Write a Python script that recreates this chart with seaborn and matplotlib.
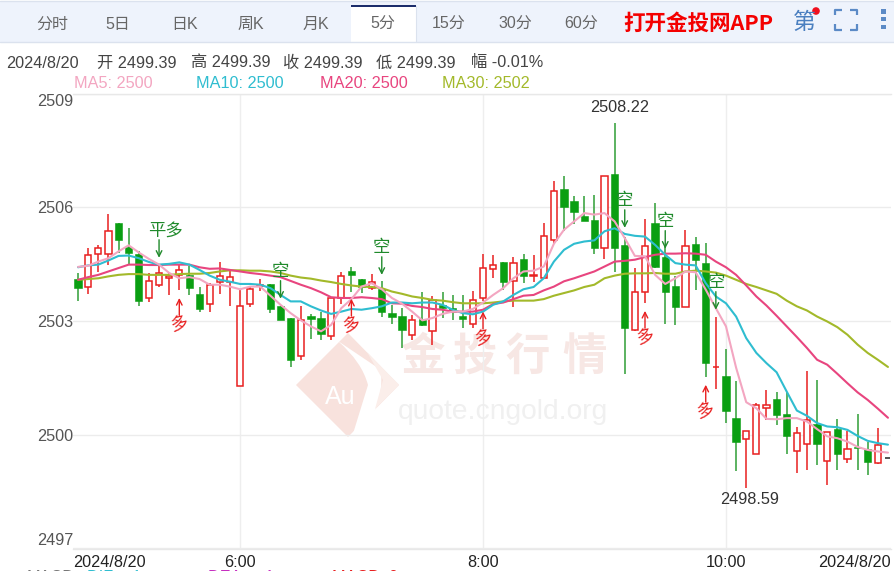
import pandas as pd
import numpy as np
import matplotlib
matplotlib.use("Agg")
import matplotlib.pyplot as plt
import matplotlib.transforms as mtrans
import seaborn as sns
from matplotlib.patches import Polygon, Rectangle, Circle, PathPatch
from matplotlib.path import Path

# 5 minute candles, 2024/8/20
OPEN = [2504.11, 2503.91, 2504.77, 2504.77, 2505.60, 2504.95, 2504.78, 2503.60, 2503.94, 2504.13, 2504.22,
        2504.21, 2503.72, 2503.45, 2504.03, 2504.03, 2501.28, 2503.44, 2503.93, 2503.97, 2503.40,
        2503.08, 2502.09, 2503.14, 2503.08, 2502.62, 2503.61, 2504.33, 2504.11, 2503.87, 2503.84,
        2503.21, 2503.14, 2502.63, 2503.06, 2502.73, 2503.43, 2503.34, 2503.14, 2502.92, 2503.62,
        2504.37, 2504.57, 2504.06, 2504.64, 2504.20, 2504.13, 2505.13, 2506.48, 2506.17, 2505.76,
        2505.67, 2504.93, 2506.89, 2505.00, 2502.77, 2503.78, 2505.60, 2504.68, 2503.93, 2503.38,
        2505.04, 2504.53, 2501.78, 2501.56, 2500.44, 2499.89, 2499.50, 2500.70, 2500.94, 2500.55,
        2499.58, 2499.75, 2500.29, 2499.30, 2500.15, 2499.36, 2499.67, 2499.63, 2499.25, 2499.39]
HIGH = [2504.27, 2504.93, 2505.01, 2505.83, 2505.60, 2505.45, 2504.84, 2504.27, 2504.49, 2504.27, 2504.49,
        2504.46, 2503.91, 2504.00, 2504.56, 2504.31, 2503.83, 2503.90, 2504.11, 2503.97, 2503.40,
        2503.08, 2503.41, 2503.19, 2503.24, 2503.60, 2504.29, 2504.42, 2504.11, 2504.24, 2504.05,
        2503.43, 2503.34, 2503.15, 2503.78, 2503.65, 2503.76, 2503.69, 2503.69, 2503.80, 2504.77,
        2504.74, 2504.57, 2504.69, 2504.78, 2504.75, 2505.60, 2506.70, 2506.83, 2506.31, 2506.31,
        2506.33, 2506.84, 2508.22, 2505.23, 2504.40, 2505.69, 2506.11, 2504.97, 2504.18, 2505.41,
        2505.21, 2505.06, 2503.11, 2502.26, 2501.43, 2500.11, 2500.84, 2501.17, 2501.12, 2501.12,
        2500.20, 2501.69, 2501.45, 2500.07, 2500.41, 2500.11, 2500.55, 2499.81, 2500.19, 2499.39]
LOW = [2503.54, 2503.72, 2504.29, 2504.49, 2504.79, 2504.51, 2503.41, 2503.50, 2503.91, 2503.69, 2503.81,
       2503.69, 2503.25, 2503.23, 2503.71, 2503.40, 2501.28, 2503.37, 2503.79, 2503.21, 2503.02,
       2501.78, 2501.98, 2502.53, 2502.51, 2502.51, 2503.45, 2503.76, 2503.74, 2503.83, 2503.10,
       2502.93, 2502.30, 2502.49, 2502.86, 2502.38, 2503.08, 2503.03, 2502.81, 2502.81, 2503.52,
       2504.13, 2503.83, 2503.36, 2504.00, 2504.03, 2504.13, 2505.04, 2505.37, 2505.57, 2505.65,
       2504.77, 2504.64, 2504.29, 2501.61, 2502.73, 2503.47, 2504.40, 2502.93, 2502.89, 2503.38,
       2503.83, 2501.52, 2501.21, 2500.31, 2499.05, 2498.59, 2499.50, 2500.40, 2500.26, 2499.50,
       2498.99, 2499.08, 2499.19, 2498.68, 2499.08, 2499.25, 2499.08, 2498.93, 2499.24, 2499.39]
CLOSE = [2503.87, 2504.74, 2504.93, 2505.38, 2505.13, 2504.79, 2503.54, 2504.07, 2504.27, 2504.18, 2504.34,
         2503.87, 2503.33, 2503.95, 2504.20, 2504.17, 2503.40, 2503.86, 2503.96, 2503.31, 2503.02,
         2501.98, 2503.03, 2503.05, 2502.66, 2503.60, 2504.18, 2504.22, 2503.90, 2504.02, 2503.23,
         2503.10, 2502.77, 2503.03, 2502.89, 2503.56, 2503.34, 2503.23, 2503.05, 2503.56, 2504.39,
         2504.49, 2504.02, 2504.53, 2504.20, 2504.21, 2505.25, 2506.42, 2506.01, 2505.87, 2505.65,
         2504.94, 2506.84, 2504.94, 2502.83, 2503.78, 2504.99, 2504.42, 2503.76, 2503.37, 2504.99,
         2504.62, 2501.89, 2501.80, 2500.64, 2499.82, 2500.11, 2500.79, 2500.79, 2500.53, 2499.96,
         2500.04, 2500.38, 2499.75, 2500.07, 2499.50, 2499.62, 2499.65, 2499.28, 2499.72, 2499.39]

MA5 = [2504.43, 2504.46, 2504.57, 2504.66, 2504.84, 2505.00, 2504.81, 2504.64, 2504.49, 2504.27, 2504.13,
       2504.16, 2504.11, 2503.96, 2503.96, 2503.91, 2503.84, 2503.91, 2503.91, 2503.67, 2503.43,
       2503.21, 2503.02, 2502.86, 2502.73, 2502.90, 2503.34, 2503.58, 2503.91, 2504.00, 2503.84,
       2503.61, 2503.46, 2503.25, 2503.02, 2503.08, 2503.19, 2503.25, 2503.25, 2503.32, 2503.49,
       2503.69, 2503.87, 2504.13, 2504.31, 2504.33, 2504.44, 2505.04, 2505.41, 2505.63, 2505.85,
       2505.81, 2505.85, 2505.63, 2505.19, 2504.72, 2504.71, 2504.22, 2503.98, 2504.13, 2504.31,
       2504.29, 2503.83, 2503.34, 2502.86, 2501.77, 2500.86, 2500.70, 2500.42, 2500.41, 2500.44,
       2500.44, 2500.35, 2500.15, 2499.96, 2499.91, 2499.82, 2499.68, 2499.60, 2499.56, 2499.53]
MA10 = [2504.42, 2504.47, 2504.49, 2504.60, 2504.72, 2504.73, 2504.66, 2504.56, 2504.49, 2504.51, 2504.55,
        2504.49, 2504.35, 2504.20, 2504.09, 2504.04, 2503.98, 2503.98, 2503.96, 2503.87, 2503.69,
        2503.52, 2503.52, 2503.39, 2503.28, 2503.19, 2503.25, 2503.32, 2503.30, 2503.34, 2503.39,
        2503.49, 2503.49, 2503.47, 2503.49, 2503.49, 2503.43, 2503.30, 2503.21, 2503.18, 2503.25,
        2503.43, 2503.52, 2503.69, 2503.84, 2503.90, 2504.13, 2504.57, 2504.88, 2505.04, 2505.10,
        2505.13, 2505.37, 2505.45, 2505.30, 2505.25, 2505.23, 2505.01, 2504.75, 2504.53, 2504.49,
        2504.47, 2504.00, 2503.65, 2503.47, 2503.12, 2502.55, 2502.16, 2501.89, 2501.65, 2501.14,
        2500.64, 2500.50, 2500.31, 2500.22, 2500.20, 2500.13, 2499.97, 2499.84, 2499.78, 2499.74]
MA20 = [2504.09, 2504.16, 2504.22, 2504.31, 2504.40, 2504.49, 2504.49, 2504.48, 2504.48, 2504.49, 2504.49,
        2504.49, 2504.42, 2504.38, 2504.39, 2504.35, 2504.31, 2504.27, 2504.24, 2504.20, 2504.16,
        2504.06, 2503.96, 2503.87, 2503.76, 2503.63, 2503.61, 2503.61, 2503.63, 2503.61, 2503.58,
        2503.47, 2503.46, 2503.40, 2503.37, 2503.32, 2503.30, 2503.25, 2503.25, 2503.25, 2503.30,
        2503.45, 2503.49, 2503.58, 2503.67, 2503.69, 2503.81, 2503.91, 2504.05, 2504.13, 2504.22,
        2504.31, 2504.44, 2504.57, 2504.59, 2504.62, 2504.69, 2504.75, 2504.78, 2504.78, 2504.79,
        2504.78, 2504.75, 2504.57, 2504.42, 2504.22, 2503.94, 2503.65, 2503.41, 2503.14, 2502.86,
        2502.58, 2502.29, 2501.98, 2501.85, 2501.61, 2501.36, 2501.12, 2500.92, 2500.69, 2500.45]
MA30 = [2504.09, 2504.11, 2504.13, 2504.18, 2504.22, 2504.24, 2504.24, 2504.22, 2504.22, 2504.22, 2504.24,
        2504.25, 2504.25, 2504.27, 2504.31, 2504.34, 2504.34, 2504.33, 2504.33, 2504.31, 2504.27,
        2504.20, 2504.15, 2504.12, 2504.07, 2504.03, 2503.98, 2503.94, 2503.91, 2503.90, 2503.87,
        2503.78, 2503.72, 2503.65, 2503.61, 2503.56, 2503.54, 2503.50, 2503.47, 2503.47, 2503.47,
        2503.49, 2503.52, 2503.54, 2503.54, 2503.54, 2503.58, 2503.67, 2503.74, 2503.81, 2503.90,
        2503.96, 2504.13, 2504.20, 2504.25, 2504.26, 2504.26, 2504.27, 2504.25, 2504.25, 2504.31,
        2504.33, 2504.31, 2504.28, 2504.20, 2504.09, 2503.98, 2503.90, 2503.81, 2503.72, 2503.54,
        2503.39, 2503.28, 2503.12, 2502.99, 2502.84, 2502.64, 2502.38, 2502.16, 2501.98, 2501.79]

Y_TICKS = [2497, 2500, 2503, 2506, 2509]
X_GRID = [16, 40, 64]
X_GRID_LABELS = ["6:00", "8:00", "10:00"]
DATE_LABEL = "2024/8/20"

# trade signals: candle index, arrow tip price, text
SHORT_IDX = [8, 20, 30, 54, 58, 63]
SHORT_PRICE = [2504.67, 2503.59, 2504.22, 2505.46, 2504.91, 2503.30]
SHORT_TEXT = ["平多", "空", "空", "空", "空", "空"]
LONG_IDX = [10, 27, 40, 56, 62]
LONG_PRICE = [2503.61, 2503.59, 2503.25, 2503.27, 2501.32]

TABS = ["分时", "5日", "日K", "周K", "月K", "5分", "15分", "30分", "60分"]
TAB_X = [52, 118, 185, 251, 316, 383, 449, 515, 581]

RED = "#e81f1f"
GREEN = "#0a9f12"
WICK_GREEN = "#2f9e35"
MA_COLORS = {"MA5": "#f3a6c1", "MA10": "#2fbdd0", "MA20": "#e8457f", "MA30": "#a3b92a"}

sns.set_theme(style="white")
plt.rcParams["font.family"] = ["Liberation Sans", "Noto Sans CJK SC"]
plt.rcParams["font.size"] = 11.7

fig = plt.figure(figsize=(8.94, 5.71), dpi=100)

# page chrome, in pixel coordinates
ui = fig.add_axes([0, 0, 1, 1], zorder=0)
ui.set_xlim(0, 894)
ui.set_ylim(571, 0)
ui.axis("off")

ui.add_patch(Rectangle((0, 1), 894, 41, facecolor="#eef3fc", edgecolor="none"))
ui.plot([0, 894], [42, 42], color="#dbe2ee", lw=1)
ui.plot([0, 894], [0.5, 0.5], color="#dbe2ee", lw=1)
ui.add_patch(Rectangle((351, 5), 65, 38, facecolor="white", edgecolor="none"))
ui.add_patch(Rectangle((351, 5), 65, 2, facecolor="#1c2d6b", edgecolor="none"))
ui.plot([416, 416], [6, 42], color="#dbe2ee", lw=0.8)
for label, x in zip(TABS, TAB_X):
    ui.text(x, 24, label, ha="center", va="center", color="#666666", fontsize=11.5)

ui.text(623, 23, "打开金投网APP", ha="left", va="center", color="#f40000", fontsize=15.5, fontweight="bold",
        family=["Noto Sans CJK SC", "Liberation Sans"])
ui.text(804, 22, "第", ha="center", va="center", color="#4a7fc0", fontsize=16.5)
ui.add_patch(Circle((816, 11), 3.8, facecolor="#f00f1e", edgecolor="none"))
for xs, ys in [([835, 835, 842], [15, 9.5, 9.5]), ([850, 857, 857], [9.5, 9.5, 15]),
               ([835, 835, 842], [24, 29.5, 29.5]), ([850, 857, 857], [29.5, 29.5, 24])]:
    ui.plot(xs, ys, color="#5b8ac6", lw=1.6, solid_capstyle="butt")
for y in [11, 18.5, 26.5]:
    ui.add_patch(Rectangle((881, y - 2), 4.5, 4.5, facecolor="#5b8ac6", edgecolor="none"))

header = [(6, "2024/8/20"), (97, "开 2499.39"), (191, "高 2499.39"), (283, "收 2499.39"),
          (376, "低 2499.39"), (471, "幅 -0.01%")]
for x, s in header:
    ui.text(x, 63, s, ha="left", va="center", color="#444444", fontsize=11.7)
legend_x = [74, 196, 320, 442]
for x, (name, values) in zip(legend_x, [("MA5", MA5), ("MA10", MA10), ("MA20", MA20), ("MA30", MA30)]):
    ui.text(x, 84, f"{name}: {values[-1]:.0f}", ha="left", va="center", color=MA_COLORS[name], fontsize=11.7)

# watermark
ui.add_patch(Polygon([(348, 333), (399, 385), (348, 437), (296, 385)], facecolor="#f8e2dd", edgecolor="none"))
swoosh = Path([(338, 341), (362, 362), (368, 385), (352, 437), (385, 415), (381, 370), (338, 341)],
              [Path.MOVETO, Path.CURVE3, Path.CURVE3, Path.LINETO, Path.CURVE3, Path.CURVE3, Path.CLOSEPOLY])
ui.add_patch(PathPatch(swoosh, facecolor="white", edgecolor="none"))
ui.add_patch(Polygon([(367, 352), (399, 385), (375, 409), (383, 380)], facecolor="#fbeeea", edgecolor="none"))
ui.text(340, 397, "Au", ha="center", va="center", color="white", fontsize=18)
for x, ch in zip([422, 475, 528, 585], "金投行情"):
    ui.text(x, 357, ch, ha="center", va="center", color="#f7e7e4", fontsize=32, fontweight="bold",
            family=["Noto Sans CJK SC"])
ui.text(503, 412, "quote.cngold.org", ha="center", va="center", color="#f0f0f0", fontsize=20.3)

# MACD row, cut by the bottom edge
macd_row = [(27, "MACD", "#777777"), (87, "DIF:  -1", "#2fbdd0"),
            (208, "DEA:   -1", "#c62fc0"), (332, "MACD: 0", "#e81f1f")]
for x, s, c in macd_row:
    ui.text(x, 578, s, ha="left", va="center", color=c, fontsize=11.7, clip_on=False)

# price chart
ax = fig.add_axes([73 / 894, 1 - 548.5 / 571, 818 / 894, 454.8 / 571], zorder=1)
ax.patch.set_alpha(0)
idx = np.arange(len(OPEN))
ax.set_xlim(-0.5, 80.3)
ax.set_ylim(2497, 2509)

ax.set_yticks(Y_TICKS)
ax.set_yticklabels([str(t) for t in Y_TICKS], color="#555555", fontsize=11.7)
# end labels sit inside the axis range
nudge = mtrans.ScaledTranslation(0, -2 / 100, fig.dpi_scale_trans)
for lab in [ax.get_yticklabels()[0], ax.get_yticklabels()[-1]]:
    lab.set_transform(lab.get_transform() + nudge)
ax.get_yticklabels()[0].set_va("bottom")
ax.get_yticklabels()[-1].set_va("top")
ax.grid(axis="y", color="#ececec", lw=1)
for x in X_GRID:
    ax.axvline(x, color="#eeeeee", lw=1, zorder=0)
ax.set_xticks([-0.5] + X_GRID + [80.3])
ax.set_xticklabels([DATE_LABEL] + X_GRID_LABELS + [DATE_LABEL], color="#222222", fontsize=11.7)
ax.get_xticklabels()[0].set_ha("left")
ax.get_xticklabels()[-1].set_ha("right")
ax.tick_params(axis="both", length=0, pad=0)
ax.tick_params(axis="x", pad=5)
for name in ["left", "right"]:
    ax.spines[name].set_visible(False)
for name in ["top", "bottom"]:
    ax.spines[name].set_color("#e8e8e8")
    ax.spines[name].set_linewidth(1)

# candles, the last one is only a dash
for i in idx[:-1]:
    up = CLOSE[i] >= OPEN[i]
    ax.vlines(i, LOW[i], HIGH[i], color=RED if up else WICK_GREEN, lw=1.1, zorder=2)
    lo, hi = min(OPEN[i], CLOSE[i]), max(OPEN[i], CLOSE[i])
    if up:
        ax.bar(i, hi - lo, bottom=lo, width=0.62, facecolor="white", edgecolor=RED, linewidth=1.1, zorder=3)
    else:
        ax.bar(i, hi - lo, bottom=lo, width=0.72, facecolor=GREEN, edgecolor=GREEN, linewidth=0.4, zorder=3)
ax.hlines(CLOSE[-1], idx[-1] - 0.25, idx[-1] + 0.25, color="#333333", lw=1.2, zorder=3)

df = pd.DataFrame({"idx": idx, "MA5": MA5, "MA10": MA10, "MA20": MA20, "MA30": MA30})
df = df.melt(id_vars="idx", var_name="ma", value_name="price")
sns.lineplot(data=df, x="idx", y="price", hue="ma", hue_order=["MA30", "MA20", "MA10", "MA5"],
             palette=MA_COLORS, estimator=None, linewidth=1.5, legend=False, ax=ax, zorder=4)
ax.set_xlabel("")
ax.set_ylabel("")

# high and low labels
i_hi = int(np.argmax(HIGH))
i_lo = int(np.argmin(LOW))
ax.annotate(f"{HIGH[i_hi]:.2f}", (i_hi, HIGH[i_hi]), xytext=(3.5, 6), textcoords="offset points",
            ha="center", va="bottom", color="#333333", fontsize=11.7, zorder=6)
ax.annotate(f"{LOW[i_lo]:.2f}", (i_lo, LOW[i_lo]), xytext=(2.5, -2.5), textcoords="offset points",
            ha="center", va="top", color="#333333", fontsize=11.7, zorder=6)

# signal arrows
for i, price, s in zip(SHORT_IDX, SHORT_PRICE, SHORT_TEXT):
    ax.annotate("", (i, price), xytext=(0, 13), textcoords="offset points", zorder=6,
                arrowprops=dict(arrowstyle="->", color="#1f8a2b", lw=1, shrinkA=0, shrinkB=0, mutation_scale=10))
    dx = 4.5 if len(s) > 1 else 0
    ax.annotate(s, (i, price), xytext=(dx, 19.5), textcoords="offset points", ha="center", va="center",
                color="#1f8a2b", fontsize=12.5, zorder=6)
for i, price in zip(LONG_IDX, LONG_PRICE):
    ax.annotate("", (i, price), xytext=(0, -12.5), textcoords="offset points", zorder=6,
                arrowprops=dict(arrowstyle="->", color=RED, lw=1, shrinkA=0, shrinkB=0, mutation_scale=10))
    ax.annotate("多", (i, price), xytext=(0, -18.5), textcoords="offset points", ha="center", va="center",
                color=RED, fontsize=12.5, rotation=15, zorder=6)

fig.savefig("out.png", dpi=100)
